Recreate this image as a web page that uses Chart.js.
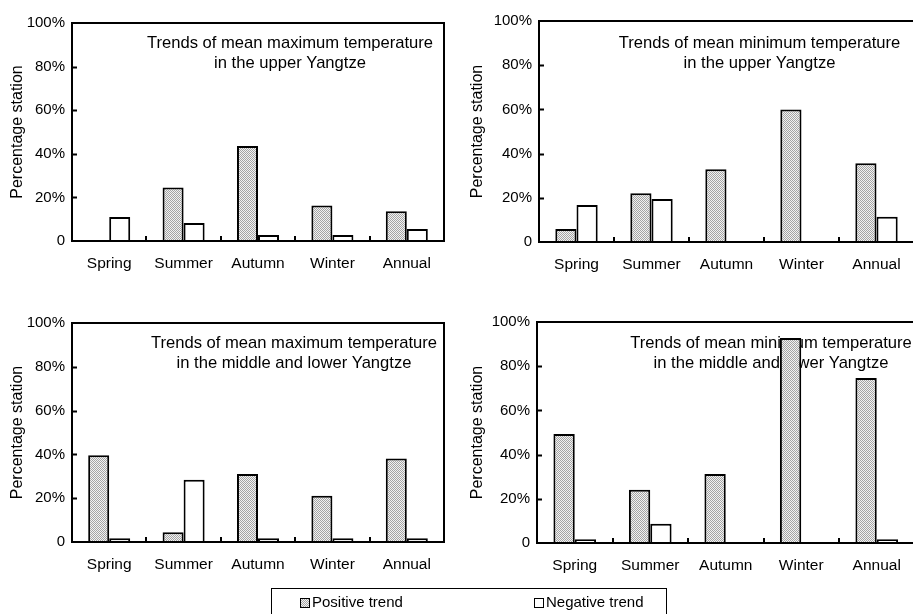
<!DOCTYPE html>
<html>
<head>
<meta charset="utf-8">
<script src="https://cdn.jsdelivr.net/npm/chart.js@4"></script>
<style>
  html, body { margin: 0; padding: 0; background: #fff; }
  body { width: 913px; height: 614px; overflow: hidden; position: relative; font-family: 'Liberation Sans', Arial, sans-serif; }
  canvas { position: absolute; }
  #legend {
    position: absolute; left: 271px; top: 588px; width: 396px; height: 40px;
    border: 1.5px solid #000; box-sizing: border-box; font-size: 15px; color: #000;
  }
  #legend .item { position: absolute; top: 4px; white-space: nowrap; line-height: 17px; }
  #legend .swatch {
    display: inline-block; width: 10px; height: 10px; border: 1.5px solid #000; box-sizing: border-box;
    vertical-align: -1px; margin-right: 2px; background: #fff;
  }
  #legend .swatch.pos { background: repeating-conic-gradient(#a4a4a4 0 25%, #f2f2f2 0 50%) 0 0 / 2px 2px; }
</style>
</head>
<body>
<canvas id="p1" width="460" height="290" style="left:0;top:0"></canvas>
<canvas id="p2" width="470" height="290" style="left:460px;top:0"></canvas>
<canvas id="p3" width="460" height="290" style="left:0;top:300px"></canvas>
<canvas id="p4" width="470" height="290" style="left:460px;top:300px"></canvas>
<div id="legend">
  <span class="item" style="left:28px"><span class="swatch pos"></span>Positive trend</span>
  <span class="item" style="left:262px"><span class="swatch"></span>Negative trend</span>
</div>
<script>
// Share of stations (%) with positive / negative trends, by season
const seasons = ['Spring', 'Summer', 'Autumn', 'Winter', 'Annual'];
const yTicks = [0, 20, 40, 60, 80, 100];

const upperMaxPositive = [0, 24.5, 43.6, 16.3, 13.7];
const upperMaxNegative = [11.0, 8.2, 2.7, 2.7, 5.5];

const upperMinPositive = [5.9, 22.1, 32.9, 60.0, 35.6];
const upperMinNegative = [16.7, 19.5, 0, 0, 11.4];

const midLowMaxPositive = [39.6, 4.4, 31.1, 21.1, 38.1];
const midLowMaxNegative = [1.7, 28.4, 1.7, 1.7, 1.7];

const midLowMinPositive = [49.3, 24.1, 31.2, 92.8, 74.7];
const midLowMinNegative = [1.7, 8.7, 0, 0, 1.7];

const FONT = "'Liberation Sans', Arial, sans-serif";

// stippled grey fill used for the positive-trend bars
function stipple() {
  const c = document.createElement('canvas');
  c.width = 2; c.height = 2;
  const g = c.getContext('2d');
  g.fillStyle = '#f2f2f2'; g.fillRect(0, 0, 2, 2);
  g.fillStyle = '#a4a4a4'; g.fillRect(0, 0, 1, 1); g.fillRect(1, 1, 1, 1);
  return g.createPattern(c, 'repeat');
}

// frame, inward tick marks and the in-plot caption
const framePlugin = {
  id: 'frame',
  beforeDatasetsDraw(chart, args, opts) {
    const ctx = chart.ctx;
    ctx.save();
    ctx.fillStyle = '#000';
    ctx.font = opts.titleSize + 'px ' + FONT;
    ctx.textAlign = 'center';
    ctx.textBaseline = 'alphabetic';
    opts.lines.forEach((t, i) => ctx.fillText(t, opts.titleX, opts.titleY + i * 20));
    ctx.restore();
  },
  afterDatasetsDraw(chart) {
    const ctx = chart.ctx;
    const a = chart.chartArea;
    const x = chart.scales.x, y = chart.scales.y;
    ctx.save();
    ctx.strokeStyle = '#000';
    ctx.lineWidth = 2;
    ctx.strokeRect(a.left, a.top, a.right - a.left, a.bottom - a.top);
    ctx.beginPath();
    yTicks.slice(1, -1).forEach(v => {
      const py = Math.round(y.getPixelForValue(v)) + 0.5;
      ctx.moveTo(a.left, py); ctx.lineTo(a.left + 5, py);
    });
    for (let i = 1; i < seasons.length; i++) {
      const px = Math.round((x.getPixelForTick(i - 1) + x.getPixelForTick(i)) / 2);
      ctx.moveTo(px, a.bottom); ctx.lineTo(px, a.bottom - 5);
    }
    ctx.stroke();
    ctx.restore();
  }
};

function makePanel(id, positive, negative, lines, frame) {
  const canvas = document.getElementById(id);
  const W = canvas.width, H = canvas.height;
  const fill = stipple();
  new Chart(canvas, {
    type: 'bar',
    data: {
      labels: seasons,
      datasets: [
        { label: 'Positive trend', data: positive, backgroundColor: fill, borderColor: '#000', borderWidth: 2 },
        { label: 'Negative trend', data: negative, backgroundColor: '#fff', borderColor: '#000', borderWidth: 2 }
      ]
    },
    options: {
      responsive: false,
      animation: false,
      events: [],
      layout: { padding: { left: 0, top: frame.top, right: W - frame.right, bottom: 0 } },
      datasets: { bar: { categoryPercentage: 0.565, barPercentage: 1.0 } },
      plugins: {
        legend: { display: false },
        tooltip: { enabled: false },
        frame: { lines: lines, titleX: frame.titleX, titleY: 48, titleSize: 16.6 }
      },
      scales: {
        x: {
          grid: { display: false, drawTicks: false },
          border: { display: false },
          ticks: { color: '#000', font: { family: FONT, size: 15.5 }, padding: 13 },
          afterFit(s) { s.height = H - frame.bottom; }
        },
        y: {
          min: 0, max: 100,
          afterBuildTicks(s) { s.ticks = yTicks.map(v => ({ value: v })); },
          grid: { display: false, drawTicks: false },
          border: { display: false },
          ticks: { color: '#000', font: { family: FONT, size: 15 }, padding: 7,
                   callback: v => (v === 0 ? '0' : v + '%') },
          title: { display: true, text: 'Percentage station', color: '#000',
                   font: { family: FONT, size: 16 }, padding: { top: 8, bottom: 0 } },
          afterFit(s) { s.width = frame.left; }
        }
      }
    },
    plugins: [framePlugin]
  });
}

makePanel('p1', upperMaxPositive, upperMaxNegative,
  ['Trends of mean maximum temperature', 'in the upper Yangtze'],
  { left: 72, top: 23, right: 444, bottom: 241, titleX: 290 });
makePanel('p2', upperMinPositive, upperMinNegative,
  ['Trends of mean minimum temperature', 'in the upper Yangtze'],
  { left: 79, top: 21, right: 454, bottom: 242, titleX: 299.5 });
makePanel('p3', midLowMaxPositive, midLowMaxNegative,
  ['Trends of mean maximum temperature', 'in the middle and lower Yangtze'],
  { left: 72, top: 23, right: 444, bottom: 242, titleX: 294 });
makePanel('p4', midLowMinPositive, midLowMinNegative,
  ['Trends of mean minimum temperature', 'in the middle and lower Yangtze'],
  { left: 77, top: 22, right: 454.5, bottom: 243, titleX: 311 });
</script>
</body>
</html>
